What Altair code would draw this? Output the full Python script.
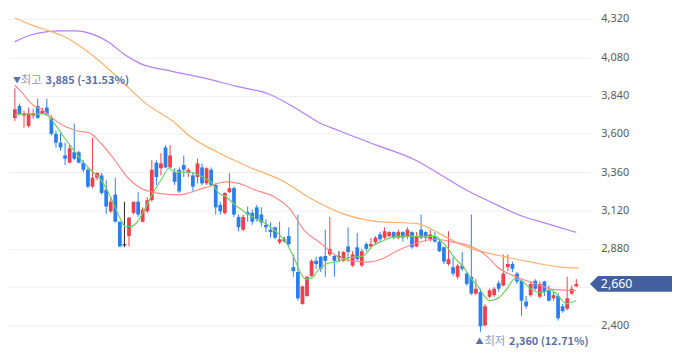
import altair as alt
import pandas as pd

# ---- OHLC ----
opens = [3700, 3775, 3715, 3650, 3715, 3775, 3725, 3765, 3700, 3600,
         3545, 3465, 3420, 3485, 3485, 3420, 3375, 3270, 3325, 3340,
         3250, 3115, 3220, 3050, 2905, 2960, 3105, 3175, 3050, 3115,
         3185, 3420, 3385, 3515, 3390, 3360, 3375, 3405, 3355, 3340,
         3330, 3390, 3290, 3375, 3280, 3155, 3105, 3235, 3260, 3080,
         3000, 3110, 3105, 3140, 3095, 3030, 3000, 3015, 2920, 2935,
         2960, 2765, 2735, 2535, 2585, 2710, 2805, 2830, 2835, 2845,
         2835, 2830, 2805, 2895, 2775, 2890, 2775, 2910, 2895, 2920,
         2970, 2950, 2960, 2985, 2950, 2985, 2960, 2985, 2895, 3000,
         2985, 2940, 2960, 2925, 2890, 2785, 2765, 2705, 2775, 2725,
         2705, 2600, 2610, 2400, 2580, 2590, 2665, 2650, 2765, 2785,
         2725, 2680, 2550, 2590, 2680, 2580, 2675, 2620, 2570, 2585,
         2520, 2505, 2600, 2645]
highs = [3885, 3790, 3745, 3765, 3755, 3820, 3765, 3820, 3715, 3620,
         3610, 3545, 3530, 3665, 3495, 3435, 3385, 3575, 3360, 3355,
         3310, 3205, 3325, 3050, 3175, 3080, 3175, 3235, 3140, 3205,
         3435, 3435, 3480, 3530, 3530, 3385, 3390, 3465, 3385, 3360,
         3445, 3415, 3390, 3390, 3290, 3175, 3235, 3355, 3270, 3095,
         3095, 3145, 3125, 3155, 3140, 3065, 3045, 3020, 3050, 2955,
         3015, 2845, 3095, 2650, 2710, 2815, 2830, 2835, 3000, 3080,
         2845, 2865, 2865, 3015, 2865, 2980, 2880, 2920, 2950, 2960,
         2985, 3015, 2990, 2990, 3000, 2990, 3015, 2990, 2985, 3095,
         2990, 3000, 2985, 2940, 2895, 2990, 2830, 2785, 2860, 2735,
         3095, 2690, 2630, 2535, 2630, 2640, 2680, 2845, 2845, 2800,
         2735, 2690, 2585, 2675, 2690, 2675, 2680, 2650, 2610, 2600,
         2535, 2705, 2650, 2690]
lows = [3680, 3715, 3640, 3640, 3695, 3695, 3725, 3715, 3590, 3515,
        3495, 3405, 3415, 3435, 3415, 3360, 3260, 3260, 3310, 3220,
        3100, 3105, 3045, 2890, 2890, 2895, 3095, 3080, 3045, 3105,
        3175, 3280, 3340, 3385, 3385, 3280, 3230, 3330, 3330, 3235,
        3290, 3280, 3280, 3270, 3095, 3095, 3095, 3230, 3080, 2990,
        2990, 3050, 3030, 3050, 3020, 2985, 2950, 2940, 2910, 2920,
        2895, 2705, 2555, 2530, 2580, 2705, 2755, 2735, 2705, 2835,
        2705, 2800, 2800, 2800, 2765, 2805, 2765, 2865, 2880, 2910,
        2925, 2940, 2950, 2940, 2940, 2925, 2940, 2880, 2890, 2940,
        2925, 2925, 2920, 2860, 2785, 2775, 2710, 2690, 2740, 2650,
        2590, 2590, 2360, 2395, 2570, 2580, 2610, 2645, 2740, 2735,
        2660, 2460, 2505, 2580, 2620, 2570, 2585, 2550, 2555, 2430,
        2480, 2495, 2590, 2640]
closes = [3755, 3725, 3730, 3730, 3730, 3700, 3745, 3725, 3600, 3545,
          3515, 3445, 3510, 3445, 3420, 3375, 3270, 3325, 3355, 3230,
          3145, 3175, 3050, 2895, 2905, 3075, 3175, 3095, 3125, 3185,
          3375, 3330, 3415, 3390, 3465, 3300, 3240, 3375, 3375, 3270,
          3415, 3290, 3385, 3280, 3140, 3115, 3230, 3260, 3095, 3015,
          3080, 3095, 3050, 3065, 3045, 3015, 2985, 2950, 2940, 2935,
          2910, 2740, 2570, 2645, 2705, 2805, 2785, 2755, 2805, 2880,
          2805, 2830, 2860, 2860, 2845, 2815, 2865, 2880, 2910, 2950,
          2940, 2990, 2985, 2950, 2985, 2950, 3000, 2890, 2960, 2950,
          2950, 2970, 2925, 2865, 2800, 2815, 2725, 2775, 2755, 2660,
          2600, 2630, 2395, 2520, 2620, 2630, 2630, 2725, 2785, 2755,
          2675, 2555, 2520, 2660, 2630, 2660, 2610, 2555, 2590, 2445,
          2490, 2570, 2630, 2660]

# ---- moving averages ----
ma5_i = [0, 1.5, 6.3, 7.2, 9.3, 10.5, 12.6, 14.1, 16.2, 18.9, 20.4, 21.9, 23.2, 24.2,
         25.3, 26.7, 28.4, 30.3, 32.4, 33.7, 35.2, 38.3, 41.1, 43.2, 44.6, 46.3, 48.2,
         50.3, 53.1, 54.1, 56.2, 58.3, 59.4, 61.1, 62.5, 63.6, 65.1, 66.3, 68.2, 71, 72,
         74.1, 76.2, 78.3, 80.4, 82.5, 84.6, 88.8, 92, 93.5, 94.7, 96.2, 98.3, 100,
         101.5, 102.5, 104, 105.7, 107.8, 109.5, 111, 113, 115.2, 117.3, 119.4, 120.8, 123]
ma5_v = [3715, 3726, 3726, 3713, 3639, 3590, 3509, 3453, 3385, 3311, 3237, 3144, 3063, 3020,
         3020, 3045, 3125, 3231, 3330, 3385, 3360, 3360, 3330, 3292, 3231, 3206, 3156,
         3113, 3063, 3051, 3014, 2958, 2921, 2828, 2735, 2692, 2698, 2742, 2785, 2804, 2816,
         2828, 2834, 2896, 2927, 2952, 2958, 2958, 2958, 2927, 2890, 2828, 2766, 2692,
         2643, 2599, 2556, 2568, 2630, 2692, 2680, 2630, 2605, 2624, 2574, 2537, 2556]
ma20_i = [0, 1.5, 3.6, 6.3, 9.9, 13.5, 16.2, 18.9, 21.9, 24.6, 27.4, 30.9, 35.8, 41.5,
          46.3, 48.8, 52.6, 56.8, 60.4, 63.2, 66.7, 70.3, 73.7, 77.3, 80.4, 83.6, 87.8,
          92, 96.2, 100.4, 103.6, 105.7, 109.9, 114.1, 118.3, 123]
ma20_v = [3905, 3860, 3790, 3744, 3664, 3620, 3608, 3540, 3435, 3330, 3262, 3231, 3218, 3262,
          3299, 3292, 3249, 3206, 3125, 3002, 2921, 2840, 2804, 2797, 2816, 2865, 2915,
          2940, 2921, 2890, 2828, 2766, 2704, 2661, 2624, 2618]
ma60_i = [0, 3.6, 7.4, 10.9, 13.5, 17.3, 20.4, 22.5, 28.8, 34.5, 38.7, 43.6, 51.4, 58.3,
          65.3, 72.4, 79.4, 87.8, 91.4, 94.1, 100.4, 106.7, 113.1, 119.4, 123.6]
ma60_v = [4326, 4283, 4246, 4209, 4165, 4085, 4010, 3955, 3788, 3682, 3577, 3497, 3391, 3311,
          3187, 3094, 3051, 3039, 3001, 2958, 2878, 2834, 2797, 2766, 2760]
ma120_i = [0, 3.6, 9.9, 13.5, 16.8, 20.4, 24, 27.4, 34.5, 41.5, 48.4, 55.6, 62.5, 66.7,
           71, 79.4, 87.8, 94.1, 98.9, 104.6, 110.3, 117.3, 123]
ma120_v = [4178, 4221, 4246, 4246, 4227, 4178, 4097, 4042, 3992, 3949, 3899, 3850, 3744, 3670,
           3620, 3528, 3435, 3330, 3249, 3169, 3094, 3032, 2983]

y_ticks = [4320, 4080, 3840, 3600, 3360, 3120, 2880, 2640, 2400]
high_i, high_v, high_txt = 0, 3885, "3,885 (-31.53%)"
low_i, low_v, low_txt = 102, 2360, "2,360 (12.71%)"
last_v, last_txt = 2660, "2,660"

RED = "#f0404c"
BLUE = "#2a7ff0"
FONT = "Noto Sans CJK KR"

n = len(closes)
candles = pd.DataFrame({"i": list(range(n)), "o": opens, "h": highs, "l": lows, "c": closes})
candles["dir"] = ["up" if c > o else ("down" if c < o else "flat") for o, c in zip(opens, closes)]

xs = alt.Scale(domain=[-0.4256, 125.13], nice=False, zero=False)
ys = alt.Scale(domain=[2271.1, 4375.7], nice=False, zero=False)
yaxis = alt.Axis(orient="right", values=y_ticks, grid=True, gridColor="#eef0f5",
                 gridWidth=1, domain=False, ticks=False, labelPadding=10, labelColor="#5a5a5a",
                 labelFontSize=11, labelFont="Noto Sans", title=None,
                 labelExpr="datum.value == 2640 ? '' : format(datum.value, ',')")
X = alt.X("i:Q", scale=xs, axis=None)


def Y(f):
    return alt.Y(f, scale=ys, axis=yaxis)


col = alt.Color("dir:N", scale=alt.Scale(domain=["up", "down", "flat"],
                                         range=[RED, BLUE, "#222222"]), legend=None)

base = alt.Chart(candles)
wicks = base.mark_rule(strokeWidth=1, clip=True).encode(x=X, y=Y("l:Q"), y2="h:Q", color=col)
bodies = base.mark_bar(size=3.8, clip=True).encode(x=X, y=Y("o:Q"), y2="c:Q", color=col)
doji = base.transform_filter("datum.dir == 'flat'").mark_rule(
    strokeWidth=1, xOffset=-2, x2Offset=2).encode(x=X, x2="i:Q", y=Y("o:Q"), color=col)


def ma_line(ii, vv, color):
    df = pd.DataFrame({"i": ii, "v": vv})
    return alt.Chart(df).mark_line(color=color, strokeWidth=1.2, clip=True,
                                   interpolate="monotone").encode(x=X, y=Y("v:Q"))


l120 = ma_line(ma120_i, ma120_v, "#b47ef6")
l60 = ma_line(ma60_i, ma60_v, "#ffb06a")
l20 = ma_line(ma20_i, ma20_v, "#ff8a8a")
l5 = ma_line(ma5_i, ma5_v, "#72cf64")

hi_df = pd.DataFrame({"i": [high_i], "v": [high_v], "t": [high_txt]})
lo_df = pd.DataFrame({"i": [low_i], "v": [low_v], "t": [low_txt]})
last_df = pd.DataFrame({"v": [last_v], "t": [last_txt]})

hi_tri = alt.Chart(hi_df).mark_text(text="▼", align="left", baseline="middle", dx=-2, dy=-7,
                                    fontSize=8, color="#5b6fa8", font=FONT).encode(x=X, y=Y("v:Q"))
hi_word = alt.Chart(hi_df).mark_text(text="최고", align="left", baseline="middle", dx=6, dy=-7,
                                     fontSize=11.5, color="#8d9bc4", font=FONT).encode(x=X, y=Y("v:Q"))
hi_num = alt.Chart(hi_df).mark_text(align="left", baseline="middle", dx=31, dy=-7, fontSize=11,
                                    fontWeight="bold", color="#5b6fa8", font=FONT).encode(
    x=X, y=Y("v:Q"), text="t:N")

lo_tri = alt.Chart(lo_df).mark_text(text="▲", align="left", baseline="middle", dx=-5, dy=10,
                                    fontSize=8, color="#5b6fa8", font=FONT).encode(x=X, y=Y("v:Q"))
lo_word = alt.Chart(lo_df).mark_text(text="최저", align="left", baseline="middle", dx=4, dy=10,
                                     fontSize=11.5, color="#8d9bc4", font=FONT).encode(x=X, y=Y("v:Q"))
lo_num = alt.Chart(lo_df).mark_text(align="left", baseline="middle", dx=29, dy=10, fontSize=11,
                                    fontWeight="bold", color="#5b6fa8", font=FONT).encode(
    x=X, y=Y("v:Q"), text="t:N")

box_path = "M -1 0 L -0.807 -0.193 L 1 -0.193 L 1 0.193 L -0.807 0.193 Z"
last_box = alt.Chart(last_df).mark_point(shape=box_path, size=83 * 83, filled=True, opacity=1,
                                         color="#435f9e", strokeWidth=0, clip=False).encode(
    x=alt.value(630.5), y=Y("v:Q"))
last_text = alt.Chart(last_df).mark_text(align="left", baseline="middle", color="white",
                                         fontSize=12.5, font="Noto Sans").encode(
    x=alt.value(600), y=Y("v:Q"), text="t:N")

chart = alt.layer(
    wicks, bodies, doji, l120, l60, l20, l5,
    hi_tri, hi_word, hi_num, lo_tri, lo_word, lo_num, last_box, last_text
).properties(
    width=590, height=340,
    autosize=alt.AutoSizeParams(type="none"),
    padding={"left": 0, "top": 0, "right": 82, "bottom": 10},
    background="white",
).configure_view(stroke=None)

chart.save("out.html", embed_options={"renderer": "svg", "actions": False})
